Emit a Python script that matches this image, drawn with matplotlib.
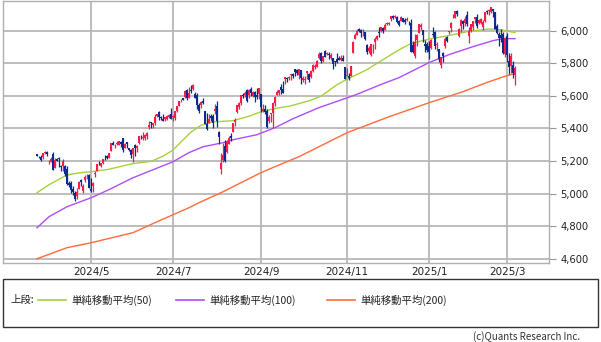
import numpy as np
import pandas as pd
import matplotlib
matplotlib.use("Agg")
import matplotlib.pyplot as plt
from matplotlib.lines import Line2D
from matplotlib.patches import Rectangle

plt.rcParams['font.family'] = ['DejaVu Sans', 'Noto Sans CJK JP']
JP = ['Noto Sans CJK JP', 'DejaVu Sans']

# trading days shown (NYSE calendar)
holidays = ["2024-03-29", "2024-05-27", "2024-06-19", "2024-07-04", "2024-09-02",
            "2024-11-28", "2024-12-25", "2025-01-01", "2025-01-09", "2025-01-20",
            "2025-02-17"]
dates = pd.bdate_range("2024-03-22", "2025-03-07", freq="C", holidays=holidays)

# daily OHLC (one line per month)
opens = [
    5242, 5219, 5228, 5226, 5248,
    5258, 5204, 5194, 5244, 5158, 5211, 5218, 5167, 5172, 5171, 5149, 5064, 5068, 5031, 5005, 4988, 5029, 5085, 5019, 5085, 5114, 5115,
    5029, 5050, 5122, 5142, 5188, 5169, 5189, 5225, 5233, 5221, 5264, 5310, 5303, 5305, 5298, 5319, 5340, 5282, 5315, 5278, 5270, 5244,
    5297, 5278, 5314, 5357, 5343, 5341, 5353, 5409, 5441, 5424, 5431, 5477, 5499, 5466, 5459, 5461, 5460, 5473, 5488,
    5471, 5462, 5506, 5537, 5572, 5584, 5591, 5635, 5590, 5638, 5644, 5610, 5608, 5543, 5545, 5566, 5505, 5428, 5433, 5477, 5478, 5505,
    5537, 5376, 5152, 5206, 5293, 5253, 5307, 5352, 5376, 5442, 5501, 5531, 5557, 5603, 5603, 5637, 5603, 5640, 5602, 5624, 5607, 5612,
    5612, 5507, 5521, 5507, 5443, 5490, 5496, 5558, 5604, 5616, 5655, 5641, 5702, 5709, 5711, 5726, 5733, 5762, 5756, 5727,
    5758, 5698, 5698, 5738, 5737, 5714, 5751, 5778, 5775, 5830, 5866, 5816, 5876, 5859, 5857, 5832, 5834, 5817, 5826, 5831, 5819, 5832, 5775,
    5723, 5725, 5722, 5864, 5947, 5976, 6008, 6003, 5985, 5989, 5912, 5874, 5848, 5917, 5933, 5947, 5992, 6000, 6015, 6004,
    6040, 6042, 6069, 6089, 6081, 6083, 6057, 6060, 6075, 6068, 6064, 6052, 6048, 5913, 5842, 5940, 5985, 6024, 6006, 5920, 5920,
    5903, 5892, 5982, 5994, 5910, 5890, 5788, 5863, 5905, 5963, 5991, 6015, 6082, 6076, 6121, 5969, 6026, 6058, 6050, 6096,
    5969, 5998, 6020, 6072, 6083, 6046, 6049, 6025, 6060, 6116, 6121, 6117, 6134, 6114, 6027, 5982, 5971, 5981, 5856,
    5969, 5812, 5781, 5787, 5726,
]
highs = [
    5246, 5229, 5236, 5249, 5265,
    5264, 5208, 5228, 5256, 5222, 5219, 5225, 5179, 5211, 5175, 5168, 5079, 5077, 5046, 5019, 5038, 5076, 5089, 5057, 5114, 5123, 5119,
    5096, 5070, 5139, 5181, 5200, 5191, 5215, 5240, 5238, 5250, 5311, 5325, 5305, 5325, 5322, 5323, 5342, 5311, 5315, 5282, 5273, 5281,
    5302, 5298, 5354, 5362, 5376, 5366, 5376, 5447, 5442, 5432, 5488, 5486, 5506, 5478, 5490, 5472, 5483, 5490, 5524,
    5480, 5510, 5539, 5570, 5583, 5590, 5635, 5642, 5655, 5667, 5670, 5622, 5615, 5557, 5569, 5585, 5509, 5492, 5488, 5487, 5486, 5551,
    5567, 5384, 5250, 5312, 5330, 5328, 5351, 5371, 5435, 5464, 5546, 5563, 5608, 5620, 5633, 5643, 5641, 5652, 5631, 5628, 5646, 5651,
    5613, 5552, 5547, 5522, 5484, 5497, 5560, 5600, 5637, 5636, 5670, 5690, 5716, 5716, 5719, 5735, 5741, 5767, 5764, 5763,
    5758, 5720, 5719, 5751, 5739, 5757, 5796, 5796, 5822, 5871, 5871, 5846, 5879, 5872, 5867, 5864, 5834, 5817, 5862, 5843, 5848, 5850, 5775,
    5772, 5741, 5783, 5936, 5983, 6012, 6018, 6010, 6008, 5994, 5916, 5909, 5920, 5920, 5962, 5973, 6021, 6025, 6021, 6045,
    6053, 6053, 6089, 6099, 6099, 6089, 6065, 6092, 6079, 6079, 6085, 6058, 6070, 5935, 5982, 5978, 6041, 6049, 6007, 5941, 5929,
    5935, 5949, 6021, 6000, 5928, 5890, 5838, 5871, 5960, 5965, 6000, 6051, 6100, 6118, 6128, 6018, 6070, 6063, 6087, 6120,
    6023, 6042, 6062, 6084, 6101, 6074, 6076, 6064, 6116, 6128, 6130, 6147, 6134, 6115, 6043, 5992, 6010, 5994, 5959,
    5987, 5865, 5860, 5812, 5783,
]
lows = [
    5229, 5216, 5203, 5213, 5246,
    5229, 5184, 5194, 5146, 5157, 5198, 5161, 5138, 5139, 5107, 5053, 5039, 5007, 4991, 4954, 4969, 5027, 5047, 5002, 5074, 5088, 5035,
    5013, 5012, 5102, 5142, 5178, 5165, 5182, 5209, 5211, 5218, 5263, 5296, 5283, 5299, 5297, 5286, 5257, 5278, 5280, 5262, 5222, 5192,
    5234, 5257, 5303, 5335, 5331, 5331, 5335, 5396, 5403, 5403, 5421, 5471, 5455, 5452, 5447, 5447, 5452, 5467, 5460,
    5446, 5452, 5504, 5536, 5562, 5574, 5587, 5573, 5584, 5619, 5639, 5584, 5522, 5497, 5526, 5550, 5425, 5391, 5431, 5444, 5401, 5488,
    5410, 5302, 5120, 5193, 5195, 5249, 5302, 5324, 5376, 5415, 5497, 5518, 5546, 5584, 5592, 5560, 5586, 5599, 5594, 5561, 5583, 5581,
    5500, 5504, 5491, 5402, 5434, 5441, 5406, 5536, 5604, 5604, 5614, 5615, 5674, 5686, 5697, 5698, 5712, 5721, 5727, 5703,
    5675, 5683, 5675, 5702, 5683, 5707, 5745, 5764, 5775, 5829, 5804, 5809, 5840, 5849, 5825, 5821, 5762, 5784, 5799, 5818, 5815, 5811, 5703,
    5723, 5697, 5722, 5864, 5947, 5976, 5991, 5962, 5965, 5942, 5855, 5866, 5846, 5860, 5885, 5944, 5963, 5993, 5985, 6004,
    6033, 6035, 6062, 6074, 6079, 6048, 6027, 6060, 6051, 6040, 6059, 6036, 5867, 5866, 5832, 5903, 5983, 6007, 5933, 5869, 5868,
    5829, 5888, 5960, 5890, 5874, 5809, 5773, 5805, 5895, 5931, 5978, 5990, 6076, 6075, 6088, 5962, 5994, 6013, 6026, 6030,
    5924, 5990, 6007, 6048, 6019, 6042, 6043, 6004, 6051, 6104, 6099, 6111, 6084, 6008, 5977, 5908, 5932, 5858, 5837,
    5810, 5733, 5743, 5711, 5666,
]
closes = [
    5234, 5218, 5204, 5248, 5254,
    5243, 5205, 5211, 5147, 5204, 5202, 5210, 5161, 5200, 5123, 5062, 5051, 5022, 5011, 4967, 5011, 5070, 5072, 5048, 5100, 5116, 5036,
    5018, 5064, 5128, 5181, 5187, 5188, 5214, 5223, 5221, 5247, 5308, 5297, 5303, 5308, 5321, 5307, 5268, 5305, 5306, 5267, 5236, 5278,
    5283, 5291, 5354, 5353, 5347, 5361, 5375, 5421, 5434, 5432, 5473, 5487, 5473, 5465, 5448, 5469, 5478, 5483, 5460,
    5475, 5509, 5537, 5567, 5572, 5577, 5633, 5585, 5615, 5631, 5667, 5588, 5545, 5505, 5564, 5556, 5427, 5399, 5459, 5464, 5436, 5522,
    5446, 5347, 5186, 5240, 5199, 5319, 5344, 5344, 5434, 5455, 5543, 5554, 5608, 5597, 5620, 5571, 5635, 5616, 5625, 5592, 5592, 5648,
    5529, 5520, 5503, 5408, 5471, 5496, 5554, 5596, 5626, 5634, 5635, 5618, 5713, 5703, 5718, 5732, 5722, 5746, 5738, 5762,
    5709, 5710, 5700, 5751, 5696, 5751, 5792, 5780, 5815, 5859, 5815, 5843, 5841, 5865, 5853, 5851, 5797, 5809, 5808, 5823, 5833, 5813, 5705,
    5729, 5712, 5782, 5929, 5973, 5996, 6001, 5984, 5985, 5949, 5871, 5894, 5917, 5917, 5949, 5970, 5987, 6021, 5998, 6032,
    6047, 6050, 6087, 6075, 6090, 6053, 6034, 6085, 6051, 6051, 6074, 6051, 5872, 5867, 5931, 5975, 6041, 6037, 5971, 5907, 5882,
    5869, 5942, 5975, 5909, 5918, 5827, 5836, 5843, 5950, 5937, 5997, 6049, 6086, 6119, 6101, 6012, 6068, 6039, 6071, 6041,
    5995, 6038, 6061, 6084, 6026, 6066, 6069, 6052, 6115, 6115, 6129, 6144, 6118, 6013, 5983, 5955, 5956, 5861, 5955,
    5850, 5778, 5843, 5739, 5770,
]

# moving averages at these trading-day positions
ma50_pos = [0, 6, 15, 21, 27, 36, 48, 57, 63, 68, 73, 77, 82, 88, 98, 106, 112, 120, 126,
            136, 142, 150, 156, 165, 172, 180, 187, 196, 205, 216, 226, 232, 239]
ma50 = [5006, 5055, 5115, 5128, 5135, 5150, 5185, 5198, 5230, 5268, 5330, 5378, 5420, 5440,
        5448, 5475, 5503, 5525, 5536, 5570, 5598, 5669, 5708, 5761, 5815, 5875, 5922, 5948,
        5968, 5996, 6010, 6006, 5988]
ma100_pos = [0, 6, 15, 27, 36, 48, 58, 68, 76, 83, 93, 98, 110, 119, 128, 141, 159, 172,
             181, 196, 206, 218, 228, 233, 239]
ma100 = [4791, 4859, 4920, 4975, 5025, 5098, 5147, 5196, 5252, 5288, 5313, 5331, 5362, 5405,
         5460, 5528, 5605, 5670, 5712, 5804, 5853, 5902, 5939, 5951, 5951]
ma200_pos = [0, 15, 27, 48, 60, 68, 76, 81, 93, 105, 112, 119, 131, 155, 176, 196, 213, 226,
             235, 239]
ma200 = [4601, 4669, 4699, 4761, 4828, 4871, 4914, 4945, 5012, 5086, 5129, 5166, 5227, 5374,
         5472, 5558, 5626, 5687, 5724, 5736]

tick_months = ["2024-05", "2024-07", "2024-09", "2024-11", "2025-01", "2025-03"]
tick_labels = ["2024/5", "2024/7", "2024/9", "2024/11", "2025/1", "2025/3"]
yticks = [4600, 4800, 5000, 5200, 5400, 5600, 5800, 6000]

W, H = 601, 342
fig = plt.figure(figsize=(W / 100, H / 100), dpi=100)
ax = fig.add_axes([3 / W, 1 - 263 / H, 546 / W, 262 / H])

o = np.array(opens); hi = np.array(highs); lo = np.array(lows); c = np.array(closes)
x = np.arange(len(dates))
up = c >= o
col = np.where(up, "#ff1a4b", "#0b2a92")

ax.vlines(x, lo, hi, colors=col, lw=0.9, zorder=3)
ax.bar(x, np.maximum(np.abs(c - o), 3), bottom=np.minimum(o, c), width=0.9,
       color=col, linewidth=0, zorder=3)

ax.plot(ma50_pos, ma50, color="#a6d13c", lw=1.0, zorder=2)
ax.plot(ma100_pos, ma100, color="#b04cff", lw=1.0, zorder=2)
ax.plot(ma200_pos, ma200, color="#ff6a3d", lw=1.0, zorder=2)

ax.set_xlim(-17, 256)
ax.set_ylim(4575, 6182)

month_key = dates.strftime("%Y-%m")
tick_pos = [int(np.argmax(month_key == m)) for m in tick_months]
ax.set_xticks(tick_pos)
ax.set_xticklabels(tick_labels, fontsize=7.5, color="#222222")
ax.set_yticks(yticks)
ax.set_yticklabels([f"{v:,}" for v in yticks], fontsize=7.2, color="#222222")
ax.yaxis.tick_right()
ax.tick_params(axis="y", length=5, width=0.8, color="#999999", pad=3)
ax.tick_params(axis="x", length=0, pad=3)
ax.grid(True, color="#b8b8b8", lw=1.3, zorder=0)
ax.set_axisbelow(True)
for s in ax.spines.values():
    s.set_color("#b0b0b0")
    s.set_linewidth(1.0)

# legend box below the chart
def fx(px):
    return px / W

def fy(py):
    return 1 - py / H

fig.patches.append(Rectangle((fx(3), fy(327)), fx(595), 48 / H, transform=fig.transFigure,
                             fill=False, edgecolor="#333333", lw=1.0))
ty = fy(300)
fig.text(fx(10), ty, "上段:", fontsize=7.5, va="center", color="#222222", family=JP)
leg = [("#a6d13c", "単純移動平均(50)", 38), ("#b04cff", "単純移動平均(100)", 176),
       ("#ff6a3d", "単純移動平均(200)", 327)]
for color, label, x0 in leg:
    fig.lines.append(Line2D([fx(x0), fx(x0 + 28)], [ty, ty], color=color, lw=1.2,
                            transform=fig.transFigure))
    fig.text(fx(x0 + 33), ty, label, fontsize=7.5, va="center", color="#222222", family=JP)

fig.text(fx(580), fy(337), "(c)Quants Research Inc.", fontsize=7, ha="right", va="center",
         color="#333333", family=JP)

fig.savefig("out.png", dpi=100)
